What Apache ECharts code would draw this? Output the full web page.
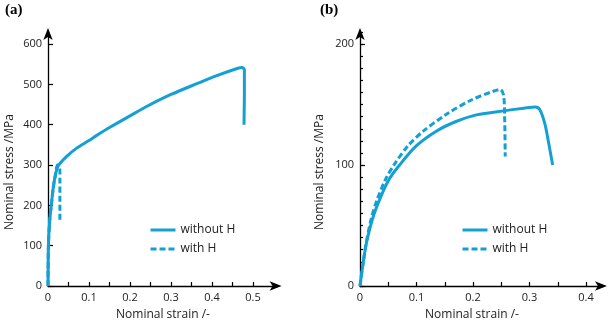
<!DOCTYPE html>
<html><head><meta charset="utf-8">
<script src="https://cdn.jsdelivr.net/npm/echarts@6/dist/echarts.min.js"></script>
<style>html,body{margin:0;padding:0;background:#fff}#c{width:610px;height:325px}</style>
</head><body><div id="c"></div>
<script>
// Panel (a)
const aWithoutH = [[0,0],[0.001,100],[0.004,160],[0.008,200],[0.013,245],[0.018,275],[0.025,298],[0.045,321],[0.07,342],[0.1,361],[0.118,373],[0.15,393],[0.2,422],[0.244,447],[0.3,475],[0.366,503],[0.41,521],[0.463,540],[0.473,542],[0.479,536],[0.479,480],[0.478,400]];
const aWithH = [[0,0],[0.001,100],[0.004,160],[0.008,200],[0.013,245],[0.018,275],[0.023,300],[0.027,296],[0.029,285],[0.029,160]];
// Panel (b)
const bWithoutH = [[0,0],[0.01,32],[0.02,52],[0.03,66],[0.05,87],[0.07,100],[0.1,116],[0.135,128],[0.17,136],[0.206,141.5],[0.257,145],[0.29,147],[0.31,148],[0.318,146],[0.327,134.5],[0.334,118],[0.341,100]];
const bWithH = [[0,0],[0.01,33],[0.02,56],[0.03,71],[0.045,88],[0.06,100],[0.085,116],[0.112,128],[0.153,142],[0.198,154],[0.236,161],[0.248,162.5],[0.254,158],[0.256,140],[0.257,107]];
// Ticks
const aXLabels = [0,0.1,0.2,0.3,0.4,0.5];
const aXTicks = [0.05,0.1,0.15,0.2,0.25,0.3,0.35,0.4,0.45,0.5];
const aYLabels = [0,100,200,300,400,500,600];
const bXLabels = [0,0.1,0.2,0.3,0.4];
const bXTicks = [0.05,0.1,0.15,0.2,0.25,0.3,0.35,0.4];
const bYLabels = [0,100,200];

const COLOR = '#14a0d3';
const FONT = 'Open Sans';
const chart = echarts.init(document.getElementById('c'));

function xAxis(gi, max, ticks, labels){
  return {type:'value', gridIndex:gi, min:0, max:max,
    axisLine:{show:true, onZero:false, lineStyle:{color:'#000', width:1.3}, symbol:['none','arrow'], symbolSize:[7,12], symbolOffset:[0,4]},
    axisTick:{show:true, inside:true, length:4, customValues:ticks, lineStyle:{color:'#000',width:1.2}},
    axisLabel:{customValues:labels, color:'#222', fontFamily:FONT, fontSize:11, margin:6, formatter:v=>String(v)},
    splitLine:{show:false}};
}
function yAxisMain(gi, max, labels){
  return {type:'value', gridIndex:gi, min:0, max:max,
    axisLine:{show:true, onZero:false, lineStyle:{color:'#000', width:1.3}, symbol:['none','arrow'], symbolSize:[7,12], symbolOffset:[0,4]},
    axisTick:{show:true, inside:true, length:5, customValues:labels, lineStyle:{color:'#000',width:1.2}},
    axisLabel:{customValues:labels, color:'#222', fontFamily:FONT, fontSize:11, margin:6},
    splitLine:{show:false}};
}
function yAxisMinor(gi, max, interval){
  return {type:'value', gridIndex:gi, min:0, max:max, interval:interval, position:'left', offset:0,
    axisLine:{show:false}, axisLabel:{show:false},
    axisTick:{show:true, inside:true, length:3, lineStyle:{color:'#000',width:1.2}},
    splitLine:{show:false}};
}
function ser(name, xi, yi, data, dashed){
  return {name:name, type:'line', xAxisIndex:xi, yAxisIndex:yi, data:data, showSymbol:false, symbol:'none', smooth:0.3,
    lineStyle:{color:COLOR, width:3, type: dashed ? [6,3] : 'solid'}, itemStyle:{color:COLOR}, z:3};
}
function legend(left){
  return {left:left, top:219, orient:'vertical', itemWidth:25, itemHeight:14, itemGap:7,
    data:['without H','with H'], itemStyle:{opacity:0}, lineStyle:{width:3},
    textStyle:{fontFamily:FONT, fontSize:12, color:'#222'}, selectedMode:false};
}

chart.setOption({
  animation:false,
  grid:[
    {left:48, top:32, width:0.56*410, height:254, containLabel:false},
    {left:360, top:32, width:0.43*565, height:254, containLabel:false}
  ],
  xAxis:[xAxis(0,0.56,aXTicks,aXLabels), xAxis(1,0.43,bXTicks,bXLabels)],
  yAxis:[yAxisMain(0,630,aYLabels), yAxisMain(1,210,bYLabels), yAxisMinor(1,210,10)],
  legend:[legend(144), legend(456)],
  series:[
    ser('without H',0,0,aWithoutH,false),
    ser('with H',0,0,aWithH,true),
    ser('without H',1,1,bWithoutH,false),
    ser('with H',1,1,bWithH,true)
  ],
  graphic:[
    {type:'text', left:5, top:3, style:{text:'(a)', font:'bold 15px "Liberation Serif"', fill:'#000'}},
    {type:'text', left:320, top:3, style:{text:'(b)', font:'bold 15px "Liberation Serif"', fill:'#000'}},
    {type:'text', x:10, y:172, rotation:Math.PI/2, style:{text:'Nominal stress /MPa', font:'12px "Open Sans"', fill:'#222', align:'center', verticalAlign:'middle'}},
    {type:'text', x:320, y:172, rotation:Math.PI/2, style:{text:'Nominal stress /MPa', font:'12px "Open Sans"', fill:'#222', align:'center', verticalAlign:'middle'}},
    {type:'text', x:163, y:315, style:{text:'Nominal strain /-', font:'12px "Open Sans"', fill:'#222', align:'center', verticalAlign:'middle'}},
    {type:'text', x:472, y:315, style:{text:'Nominal strain /-', font:'12px "Open Sans"', fill:'#222', align:'center', verticalAlign:'middle'}}
  ]
});
</script></body></html>
